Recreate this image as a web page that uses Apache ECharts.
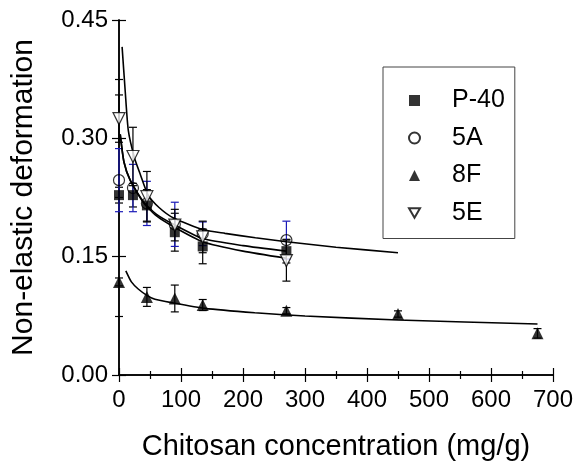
<!DOCTYPE html>
<html>
<head>
<meta charset="utf-8">
<script src="https://cdn.jsdelivr.net/npm/echarts@6/dist/echarts.min.js"></script>
<style>
html, body { margin: 0; padding: 0; background: #fff; }
#chart { width: 578px; height: 461px; }
</style>
</head>
<body>
<div id="chart"></div>
<script>
// measured points
var xMain = [0, 22.5, 45, 90, 135, 270];
var x8F = [0, 45, 90, 135, 270, 450, 675];

var p40Data = [0.228, 0.228, 0.215, 0.181, 0.163, 0.157];
var p40Err = [0.010, 0.015, 0.020, 0.024, 0.022, 0.015];
var a5Data = [0.247, 0.237, 0.2175, 0.191, 0.179, 0.171];
var a5Err = [0.040, 0.030, 0.028, 0.028, 0.015, 0.024];
var f8Data = [0.118, 0.099, 0.097, 0.0887, 0.0815, 0.0773, 0.0528];
var f8Err = [0.005, 0.012, 0.017, 0.007, 0.004, 0.004, 0.006];
var e5Data = [0.325, 0.277, 0.226, 0.190, 0.175, 0.145];
var e5Err = [0.030, 0.037, 0.032, 0.020, 0.020, 0.026];

// fitted curves
var fitAX = [5, 10, 15, 25, 34, 47, 65, 88, 136, 171, 220, 270, 350, 450];
var fitAY = [0.416, 0.36, 0.31, 0.275, 0.255, 0.228, 0.212, 0.199, 0.184, 0.1795, 0.174, 0.169, 0.162, 0.155];
var fitBX = [2, 8, 18, 39, 60, 88, 135, 200, 270];
var fitBY = [0.305, 0.27, 0.247, 0.22, 0.204, 0.191, 0.173, 0.164, 0.157];
var fitCX = [2, 8, 18, 39, 60, 88, 135, 200, 270];
var fitCY = [0.305, 0.27, 0.247, 0.219, 0.202, 0.188, 0.169, 0.157, 0.148];
var fit8FX = [11, 20, 31, 45, 58, 85, 139, 219, 300, 450, 675];
var fit8FY = [0.132, 0.118, 0.109, 0.101, 0.096, 0.0917, 0.0845, 0.079, 0.0748, 0.0697, 0.0646];

var xTicks = [0, 100, 200, 300, 400, 500, 600, 700];
var yTicks = [0.00, 0.15, 0.30, 0.45];

function pairs(xs, ys) {
    var out = [];
    xs.forEach(function (x, i) { out.push([x, ys[i]]); });
    return out;
}
function errPairs(xs, ys, es) {
    var out = [];
    xs.forEach(function (x, i) { out.push([x, ys[i] - es[i], ys[i] + es[i]]); });
    return out;
}

function errorSeries(data, color) {
    return {
        type: 'custom',
        silent: true,
        z: 1,
        data: data,
        renderItem: function (params, api) {
            var lo = api.coord([api.value(0), api.value(1)]);
            var hi = api.coord([api.value(0), api.value(2)]);
            var w = 4;
            var st = { stroke: color, lineWidth: 1.2 };
            return {
                type: 'group',
                children: [
                    { type: 'line', shape: { x1: lo[0], y1: lo[1], x2: hi[0], y2: hi[1] }, style: st },
                    { type: 'line', shape: { x1: lo[0] - w, y1: lo[1], x2: lo[0] + w, y2: lo[1] }, style: st },
                    { type: 'line', shape: { x1: hi[0] - w, y1: hi[1], x2: hi[0] + w, y2: hi[1] }, style: st }
                ]
            };
        }
    };
}

function fitSeries(xs, ys) {
    return {
        type: 'line',
        data: pairs(xs, ys),
        showSymbol: false,
        smooth: 0.2,
        silent: true,
        z: 2,
        lineStyle: { color: '#000', width: 1.6 }
    };
}

var font = 'Liberation Sans, Arial, sans-serif';
var chart = echarts.init(document.getElementById('chart'));

var axisCommon = {
    axisLine: { show: true, lineStyle: { color: '#000', width: 1.5 } },
    axisTick: { show: true, inside: true, length: 7, lineStyle: { color: '#000', width: 1.2 } },
    minorTick: { show: true, splitNumber: 2, length: 4, lineStyle: { color: '#000', width: 1.2 } },
    splitLine: { show: false }
};

var option = {
    animation: false,
    backgroundColor: '#fff',
    grid: { left: 119, top: 20, width: 434, height: 355, outerBoundsMode: 'none' },
    legend: {
        left: 383,
        top: 67,
        orient: 'vertical',
        data: ['P-40', '5A', '8F', { name: '5E', icon: 'path://M0,0L10,0L5,8.66Z' }],
        itemWidth: 11,
        itemHeight: 11,
        itemGap: 12.5,
        padding: [21, 10, 13, 25],
        borderColor: '#444',
        borderWidth: 1,
        textStyle: { fontFamily: font, fontSize: 25, color: '#000', lineHeight: 20, padding: [0, 0, 0, 27] }
    },
    xAxis: [
        Object.assign({
            type: 'value', min: 0, max: 700, interval: 100, position: 'bottom',
            name: 'Chitosan concentration (mg/g)', nameLocation: 'middle', nameGap: 57,
            nameTextStyle: { fontFamily: font, fontSize: 29, color: '#000' },
            axisLabel: { fontFamily: font, fontSize: 24, color: '#000', margin: 13,
                formatter: function (v) { return xTicks.indexOf(v) >= 0 ? String(v) : ''; } }
        }, axisCommon),
        Object.assign({
            type: 'value', min: 0, max: 700, interval: 100, position: 'top',
            axisLabel: { show: false }
        }, axisCommon)
    ],
    yAxis: [
        Object.assign({
            type: 'value', min: 0, max: 0.45, interval: 0.15, position: 'left',
            name: 'Non-elastic deformation', nameLocation: 'middle', nameGap: 80,
            nameTextStyle: { fontFamily: font, fontSize: 30, color: '#000' },
            axisLabel: { fontFamily: font, fontSize: 24, color: '#000', margin: 11,
                formatter: function (v) { return v.toFixed(2); } }
        }, axisCommon),
        Object.assign({
            type: 'value', min: 0, max: 0.45, interval: 0.15, position: 'right',
            axisLabel: { show: false }
        }, axisCommon)
    ],
    series: [
        fitSeries(fitAX, fitAY),
        fitSeries(fitBX, fitBY),
        fitSeries(fitCX, fitCY),
        fitSeries(fit8FX, fit8FY),
        errorSeries(errPairs(xMain, p40Data, p40Err), '#000'),
        errorSeries(errPairs(xMain, a5Data, a5Err), '#1a1ab8'),
        errorSeries(errPairs(xMain, e5Data, e5Err), '#000'),
        errorSeries(errPairs(x8F, f8Data, f8Err), '#000'),
        {
            name: 'P-40', type: 'scatter', symbol: 'rect', symbolSize: 10, z: 3,
            data: pairs(xMain, p40Data),
            itemStyle: { color: '#000' }
        },
        {
            name: '5A', type: 'scatter', symbol: 'circle', symbolSize: 11, z: 4,
            data: pairs(xMain, a5Data),
            itemStyle: { color: 'rgba(255,255,255,0)', borderColor: '#000', borderWidth: 1.2 }
        },
        {
            name: '8F', type: 'scatter', symbol: 'triangle', symbolSize: 12, z: 3,
            data: pairs(x8F, f8Data),
            itemStyle: { color: '#000' }
        },
        {
            name: '5E', type: 'scatter', symbol: 'triangle', symbolRotate: 180, symbolSize: 12, z: 4,
            data: pairs(xMain, e5Data),
            itemStyle: { color: '#fff', borderColor: '#000', borderWidth: 1.2 }
        }
    ]
};
chart.setOption(option);
</script>
</body>
</html>
